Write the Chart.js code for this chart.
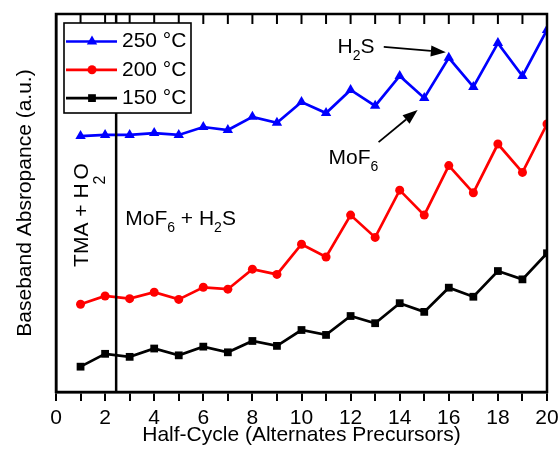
<!DOCTYPE html>
<html>
<head>
<meta charset="utf-8">
<script src="https://cdn.jsdelivr.net/npm/chart.js@4.4.1/dist/chart.umd.min.js"></script>
<style>
  body { margin: 0; background: #fff; }
  canvas { display: block; }
</style>
</head>
<body>
<canvas id="chart" width="559" height="452"></canvas>
<script>
// values (y is arbitrary units, 0..100 over the frame)
const halfCycles = [1, 2, 3, 4, 5, 6, 7, 8, 9, 10, 11, 12, 13, 14, 15, 16, 17, 18, 19, 20];
const abs250 = [67.7, 68.0, 68.0, 68.5, 68.0, 70.1, 69.3, 72.8, 71.2, 76.7, 73.8, 79.9, 75.7, 83.6, 77.8, 88.4, 80.7, 92.3, 83.6, 95.8];
const abs200 = [23.2, 25.4, 24.7, 26.4, 24.5, 27.7, 27.2, 32.5, 31.1, 39.1, 35.7, 46.8, 40.9, 53.4, 46.8, 59.9, 52.7, 65.6, 58.1, 70.9];
const abs150 = [6.7, 10.1, 9.3, 11.5, 9.7, 12.0, 10.5, 13.5, 12.2, 16.4, 15.1, 20.1, 18.2, 23.5, 21.2, 27.6, 25.2, 32.0, 29.8, 36.7];
const seriesLabels = ['250 °C', '200 °C', '150 °C'];
const precursorSwitch = 2.45;

const FONT = 'Arial, "Liberation Sans", sans-serif';

function pts(ys) {
    return halfCycles.map((x, i) => ({ x: x, y: ys[i] }));
}

function drawMarker(ctx, style, r, x, y, color) {
    ctx.save();
    ctx.fillStyle = color;
    ctx.beginPath();
    if (style == 'triangle') {
        ctx.moveTo(x, y - r);
        ctx.lineTo(x + r * 0.866, y + r * 0.5);
        ctx.lineTo(x - r * 0.866, y + r * 0.5);
        ctx.closePath();
    } else if (style == 'rect') {
        const s = r * Math.SQRT1_2;
        ctx.rect(x - s, y - s, 2 * s, 2 * s);
    } else {
        ctx.arc(x, y, r, 0, Math.PI * 2);
    }
    ctx.fill();
    ctx.restore();
}

// text with subscripts: parts = [[text, isSub], ...]
function drawRich(ctx, parts, x, y) {
    let cx = x;
    parts.forEach(p => {
        ctx.font = (p[1] ? '14px ' : '21px ') + FONT;
        ctx.fillText(p[0], cx, p[1] ? y + 7 : y);
        cx += ctx.measureText(p[0]).width;
    });
}

function arrow(ctx, x1, y1, x2, y2) {
    const a = Math.atan2(y2 - y1, x2 - x1);
    const len = 15, w = 5.5;
    ctx.save();
    ctx.strokeStyle = '#000';
    ctx.fillStyle = '#000';
    ctx.lineWidth = 1.8;
    ctx.beginPath();
    ctx.moveTo(x1, y1);
    ctx.lineTo(x2 - len * Math.cos(a), y2 - len * Math.sin(a));
    ctx.stroke();
    ctx.translate(x2, y2);
    ctx.rotate(a);
    ctx.beginPath();
    ctx.moveTo(0, 0);
    ctx.lineTo(-len, -w);
    ctx.lineTo(-len, w);
    ctx.closePath();
    ctx.fill();
    ctx.restore();
}

const decorations = {
    id: 'decorations',
    afterDraw(chart) {
        const ctx = chart.ctx;
        const area = chart.chartArea;
        const xs = chart.scales.x, ys = chart.scales.y;
        const px = v => xs.getPixelForValue(v);
        const py = v => ys.getPixelForValue(v);

        ctx.save();
        // frame
        ctx.strokeStyle = '#000';
        ctx.lineWidth = 2.5;
        ctx.strokeRect(area.left, area.top, area.right - area.left, area.bottom - area.top);

        // inward ticks on top edge
        ctx.lineWidth = 2;
        for (let v = 0; v <= 20; v++) {
            ctx.beginPath();
            ctx.moveTo(px(v), area.top);
            ctx.lineTo(px(v), area.top + 10);
            ctx.stroke();
        }

        // divider between TMA/H2O and MoF6/H2S half-cycles
        ctx.lineWidth = 2.5;
        ctx.beginPath();
        ctx.moveTo(px(precursorSwitch), area.top);
        ctx.lineTo(px(precursorSwitch), area.bottom);
        ctx.stroke();

        ctx.fillStyle = '#000';
        ctx.textBaseline = 'alphabetic';
        ctx.textAlign = 'left';

        // rotated "TMA + H2O"
        ctx.save();
        ctx.translate(px(1.31), py(33.1));
        ctx.rotate(-Math.PI / 2);
        ctx.font = '21px ' + FONT;
        ctx.fillText('TMA + H', 0, 0);
        const w0 = ctx.measureText('TMA + H').width;
        ctx.font = '16px ' + FONT;
        ctx.fillText('2', w0 - 1, 17);
        ctx.font = '21px ' + FONT;
        ctx.fillText('O', w0 + 4, 0);
        ctx.restore();

        drawRich(ctx, [['MoF', 0], ['6', 1], [' + H', 0], ['2', 1], ['S', 0]], px(2.82), py(44.2));
        drawRich(ctx, [['H', 0], ['2', 1], ['S', 0]], px(11.47), py(89.7));
        drawRich(ctx, [['MoF', 0], ['6', 1]], px(11.10), py(60.3));

        arrow(ctx, px(13.35), py(91.3), px(15.88), py(89.9));
        arrow(ctx, px(13.14), py(66.1), px(14.73), py(74.6));

        // legend box
        ctx.fillStyle = '#fff';
        ctx.fillRect(64, 23, 127, 90);
        ctx.strokeStyle = '#000';
        ctx.lineWidth = 1.6;
        ctx.strokeRect(64, 23, 127, 90);
        chart.data.datasets.forEach((ds, i) => {
            const y = 41.5 + i * 28.3;
            ctx.strokeStyle = ds.borderColor;
            ctx.lineWidth = ds.borderWidth;
            ctx.beginPath();
            ctx.moveTo(66, y);
            ctx.lineTo(117, y);
            ctx.stroke();
            drawMarker(ctx, ds.pointStyle, ds.pointRadius, 92, y, ds.borderColor);
            ctx.fillStyle = '#000';
            ctx.font = '21px ' + FONT;
            ctx.textBaseline = 'middle';
            ctx.fillText(ds.label, 122, y);
        });
        ctx.restore();
    }
};

new Chart(document.getElementById('chart'), {
    type: 'line',
    data: {
        datasets: [
            { label: seriesLabels[0], data: pts(abs250), borderColor: '#0000ff', backgroundColor: '#0000ff',
              pointStyle: 'triangle', pointRadius: 6, borderWidth: 2.7, pointBorderWidth: 0 },
            { label: seriesLabels[1], data: pts(abs200), borderColor: '#ff0000', backgroundColor: '#ff0000',
              pointStyle: 'circle', pointRadius: 4.5, borderWidth: 2.7, pointBorderWidth: 0 },
            { label: seriesLabels[2], data: pts(abs150), borderColor: '#000000', backgroundColor: '#000000',
              pointStyle: 'rect', pointRadius: 5.5, borderWidth: 2.7, pointBorderWidth: 0 }
        ]
    },
    options: {
        responsive: false,
        animation: false,
        devicePixelRatio: 1,
        layout: { padding: { top: 14, right: 12, left: 0, bottom: 0 } },
        plugins: { legend: { display: false }, tooltip: { enabled: false } },
        scales: {
            x: {
                type: 'linear', min: 0, max: 20,
                ticks: {
                    stepSize: 1, autoSkip: false, maxRotation: 0, padding: 5,
                    color: '#000', font: { size: 21, family: FONT },
                    callback: v => (v % 2 == 0 ? v : '')
                },
                grid: { display: true, drawOnChartArea: false, drawTicks: true, tickLength: 9, color: '#000', lineWidth: 2 },
                border: { display: true, color: '#000', width: 2.5 },
                title: { display: true, text: 'Half-Cycle (Alternates Precursors)', color: '#000',
                         font: { size: 21, family: FONT }, padding: { top: 0, bottom: 4 } },
                afterFit: s => { s.height = 60; s.paddingLeft = 0; s.paddingRight = 0; }
            },
            y: {
                min: 0, max: 100,
                ticks: { display: false },
                grid: { display: false },
                border: { display: true, color: '#000', width: 2.5 },
                title: { display: true, text: 'Baseband Absropance (a.u.)', color: '#000',
                         font: { size: 21, family: FONT }, padding: { top: 13, bottom: 0 } },
                afterFit: s => { s.width = 56; }
            }
        }
    },
    plugins: [decorations]
});
</script>
</body>
</html>
